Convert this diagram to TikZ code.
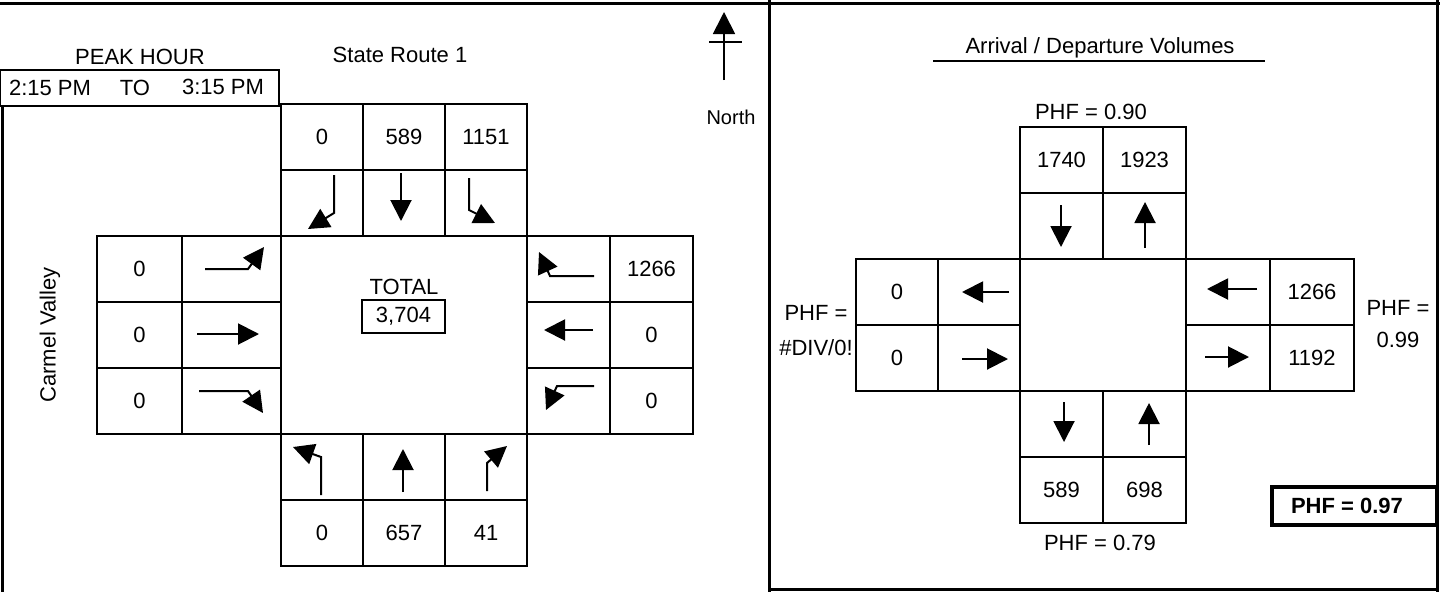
\documentclass[tikz,border=0pt]{standalone}
\usepackage{fontspec}
\setmainfont{Liberation Sans}
\usetikzlibrary{arrows.meta}
\tikzset{every picture/.style={line width=2.5pt}}
\tikzset{
  cell/.style={draw, rectangle, minimum width=82pt, minimum height=66pt, inner sep=0pt,
    font=\fontsize{22}{24}\selectfont},
  lbl/.style={inner sep=0pt, font=\fontsize{22}{24}\selectfont},
  mv/.style={->, line width=2pt}
}

\begin{document}
\begin{tikzpicture}[x=1pt, y=-1pt, >={Triangle[length=21pt, width=21pt]}]
  \useasboundingbox (0,0) rectangle (1440,592);
  % frame
  \draw[line width=3pt] (0,3) -- (1440,3);
  \draw[line width=3pt] (2,106) -- (2,592);
  \draw[line width=3pt] (769,0) -- (769,592);
  \draw[line width=3pt] (1437,0) -- (1437,592);
  \draw[line width=3pt] (769,589) -- (1437,589);

  % peak hour
  \node[lbl] (peak) at (140,57) {PEAK HOUR};
  \draw (0,70) rectangle (279,106);
  \node[lbl] (tfrom) at (50,88) {2:15 PM};
  \node[lbl] (tto)   at (135,88) {TO};
  \node[lbl] (tend)  at (223,87) {3:15 PM};
  \node[lbl] (sr1) at (400,55) {State Route 1};
  \node[lbl, rotate=90] (cv) at (50,335) {Carmel Valley};

  % north arrow
  \draw[line width=1.8pt, -{Triangle[length=22pt, width=22pt]}] (724,80) -- (724,12);
  \draw[line width=1.8pt] (709,42) -- (742,42);
  \node[lbl, font=\fontsize{20}{22}\selectfont] (north) at (731,117) {North};

  % turning movements
  \node[cell] (ns1) at (322,137) {0};
  \node[cell] (ns2) at (404,137) {589};
  \node[cell] (ns3) at (486,137) {1151};
  \node[cell] (na1) at (322,203) {};
  \node[cell] (na2) at (404,203) {};
  \node[cell] (na3) at (486,203) {};
  \node[draw, minimum width=246pt, minimum height=198pt] (ctr) at (404,335) {};
  \node[lbl] (total) at (404,287) {TOTAL};
  \node[lbl, draw, line width=2pt, minimum width=83pt, minimum height=33pt] (tot) at (403.5,316.5) {3,704};

  \node[cell, minimum width=85pt] (ws1) at (139.5,269) {0};
  \node[cell, minimum width=85pt] (ws2) at (139.5,335) {0};
  \node[cell, minimum width=85pt] (ws3) at (139.5,401) {0};
  \node[cell, minimum width=99pt] (wa1) at (231.5,269) {};
  \node[cell, minimum width=99pt] (wa2) at (231.5,335) {};
  \node[cell, minimum width=99pt] (wa3) at (231.5,401) {};

  \node[cell, minimum width=83pt] (ea1) at (568.5,269) {};
  \node[cell, minimum width=83pt] (ea2) at (568.5,335) {};
  \node[cell, minimum width=83pt] (ea3) at (568.5,401) {};
  \node[cell, minimum width=83pt] (es1) at (651.5,269) {1266};
  \node[cell, minimum width=83pt] (es2) at (651.5,335) {0};
  \node[cell, minimum width=83pt] (es3) at (651.5,401) {0};

  \node[cell] (sa1) at (322,467) {};
  \node[cell] (sa2) at (404,467) {};
  \node[cell] (sa3) at (486,467) {};
  \node[cell] (ss1) at (322,533) {0};
  \node[cell] (ss2) at (404,533) {657};
  \node[cell] (ss3) at (486,533) {41};

  \draw[mv] (334,175) -- (334,213) -- (308,229);
  \draw[mv] (401,173) -- (401,221);
  \draw[mv] (469,178) -- (469,210) -- (495,223);
  \draw[mv] (205,269) -- (248,269) -- (264,247);
  \draw[mv] (197,334) -- (259,334);
  \draw[mv] (199,391) -- (248,391) -- (263,413);
  \draw[mv] (594,276) -- (550,276) -- (539,252);
  \draw[mv] (593,330) -- (544,330);
  \draw[mv] (594,386) -- (557,386) -- (546,410);
  \draw[mv] (321,495) -- (321,457) -- (293,447);
  \draw[mv] (403,492) -- (403,449);
  \draw[mv] (487,491) -- (487,463) -- (507,446);

  % arrival / departure volumes
  \node[lbl] (avt) at (1100,48) {Arrival / Departure Volumes};
  \draw (933,61) -- (1265,61);

  \node[lbl] (phfn) at (1091,112) {PHF = 0.90};
  \node[cell, minimum width=83pt] (rn1) at (1061.5,160) {1740};
  \node[cell, minimum width=83pt] (rn2) at (1144.5,160) {1923};
  \node[cell, minimum width=83pt] (rna1) at (1061.5,226) {};
  \node[cell, minimum width=83pt] (rna2) at (1144.5,226) {};
  \node[draw, minimum width=166pt, minimum height=132pt] (rctr) at (1103,325) {};

  \node[lbl] (phfw1) at (816,313) {PHF =};
  \node[lbl] (phfw2) at (816,348) {\#DIV/0!};
  \node[cell] (rw1) at (897,292) {0};
  \node[cell] (rw2) at (897,358) {0};
  \node[cell] (rwa1) at (979,292) {};
  \node[cell] (rwa2) at (979,358) {};

  \node[cell, minimum width=84pt] (rea1) at (1228,292) {};
  \node[cell, minimum width=84pt] (rea2) at (1228,358) {};
  \node[cell, minimum width=84pt] (re1) at (1312,292) {1266};
  \node[cell, minimum width=84pt] (re2) at (1312,358) {1192};
  \node[lbl] (phfe1) at (1398,308) {PHF =};
  \node[lbl] (phfe2) at (1398,340) {0.99};

  \node[cell, minimum width=83pt] (rsa1) at (1061.5,424) {};
  \node[cell, minimum width=83pt] (rsa2) at (1144.5,424) {};
  \node[cell, minimum width=83pt] (rs1) at (1061.5,490) {589};
  \node[cell, minimum width=83pt] (rs2) at (1144.5,490) {698};
  \node[lbl] (phfs) at (1100,543) {PHF = 0.79};

  \draw[mv] (1061,205) -- (1061,247);
  \draw[mv] (1145,248) -- (1145,202);
  \draw[mv] (1009,292) -- (962,292);
  \draw[mv] (962,359) -- (1008,359);
  \draw[mv] (1257,289) -- (1207,289);
  \draw[mv] (1205,357) -- (1249,357);
  \draw[mv] (1064,402) -- (1064,442);
  \draw[mv] (1149,445) -- (1149,403);

  \draw[line width=3.5pt] (1272,487) rectangle (1437,525);
  \node[lbl, font=\fontsize{22}{24}\selectfont\bfseries] (phf) at (1347,506) {PHF = 0.97};
\end{tikzpicture}
\end{document}
